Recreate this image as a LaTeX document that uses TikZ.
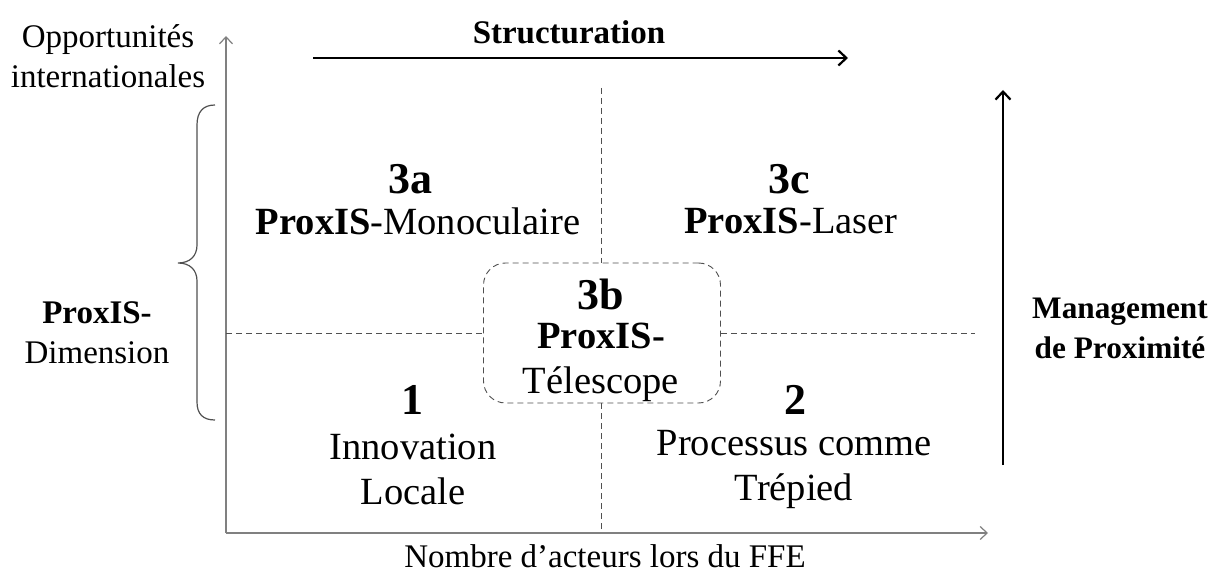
\documentclass[tikz,border=0pt]{standalone}
\usepackage{fontspec}
\setmainfont{Liberation Serif}
\usetikzlibrary{arrows.meta}
\definecolor{axisgray}{HTML}{808080}
\definecolor{dashgray}{HTML}{505050}
\begin{document}
\begin{tikzpicture}[x=1pt,y=-1pt,
  axis/.style={draw=axisgray,line width=1.2pt,-{Straight Barb[length=7pt,width=13pt,line width=1.2pt]}},
  bigarrow/.style={draw=black,line width=2.2pt,-{Straight Barb[length=8pt,width=15pt,line width=2.2pt]}},
  divider/.style={draw=dashgray,line width=0.9pt,dash pattern=on 6pt off 4pt},
  bracestyle/.style={draw=dashgray,line width=1.2pt},
  lbl/.style={font=\fontsize{33}{40}\selectfont,align=center,inner sep=0pt},
  boldlbl/.style={font=\fontsize{31.3}{40}\selectfont\bfseries,align=center,inner sep=0pt},
  quad/.style={font=\fontsize{38.5}{45}\selectfont,align=center,inner sep=0pt},
  num/.style={font=\fontsize{44}{50}\selectfont\bfseries,inner sep=0pt},
  boxstyle/.style={draw=dashgray,line width=0.9pt,dash pattern=on 6pt off 4pt,rounded corners=22pt,minimum width=237pt,minimum height=140pt,inner sep=0pt}
]
\useasboundingbox (0,0) rectangle (1210,577);
% axes
\coordinate (O) at (226,533);
\coordinate (ytop) at (226,36);
\coordinate (xend) at (988,533);
\draw[axis] (O) -- (ytop);
\draw[axis] (O) -- (xend);
% central box
\node[boxstyle] (box) at (602,333) {};
% dividers
\coordinate (vtop) at (601,88);
\coordinate (vbot) at (601,533);
\coordinate (hleft) at (226,333);
\coordinate (hright) at (975,333);
\draw[divider] (vtop) -- (vtop |- box.north);
\draw[divider] (vbot |- box.south) -- (vbot);
\draw[divider] (hleft) -- (box.west);
\draw[divider] (box.east) -- (hright);
% brace
\draw[bracestyle] (215,105) .. controls (203,105) and (197,112) .. (197,125) -- (197,245) .. controls (197,256) and (190,263) .. (178,263) .. controls (190,263) and (197,270) .. (197,281) -- (197,402) .. controls (197,414) and (203,420) .. (215,420);
% top arrow
\coordinate (sa) at (313,58);
\coordinate (sb) at (848,58);
\draw[bigarrow] (sa) -- (sb);
\node[lbl,font=\fontsize{33}{40}\selectfont\bfseries] (struct) at (569,32) {Structuration};
% right arrow
\coordinate (ma) at (1003,465);
\coordinate (mb) at (1003,90);
\draw[bigarrow] (ma) -- (mb);
\node[boldlbl] (mgmt) at (1120,328) {Management\\de Proximité};
% axis labels
\node[lbl] (opp) at (108,56) {Opportunités\\internationales};
\node[lbl] (dim) at (97,333) {\textbf{ProxIS-}\\Dimension};
\node[lbl] (xlab) at (605,556) {Nombre d’acteurs lors du FFE};
% quadrants
\node[num] (n3a) at (410,179) {3a};
\node[quad] (q3a) at (418,221) {\textbf{ProxIS}-Monoculaire};
\node[num] (n3c) at (789,179) {3c};
\node[quad] (q3c) at (791,221) {\textbf{ProxIS}-Laser};
\node[num] (n3b) at (601,294) {3b};
\node[quad] (q3b) at (601,362) {\textbf{ProxIS-}\\Télescope};
\node[num] (n1) at (412,400) {1};
\node[quad] (q1) at (413,469) {Innovation\\Locale};
\node[num] (n2) at (795,400) {2};
\node[quad] (q2) at (794,469) {Processus comme\\Trépied};
\end{tikzpicture}
\end{document}
